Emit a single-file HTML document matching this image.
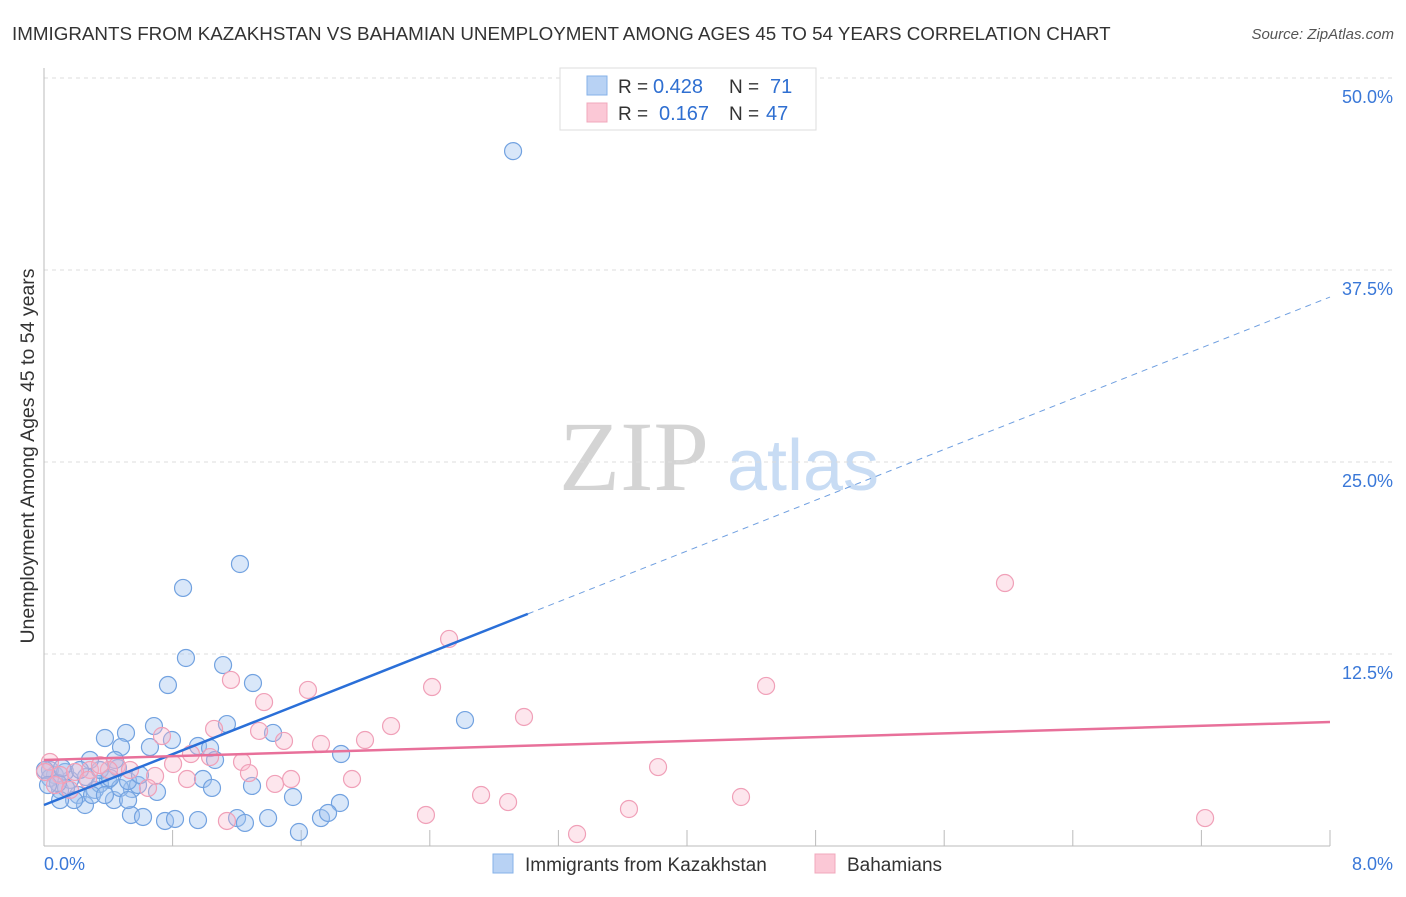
<!DOCTYPE html>
<html><head><meta charset="utf-8"><style>
body{margin:0;background:#fff;font-family:"Liberation Sans",sans-serif;}
</style></head><body>
<svg id="chart" width="1406" height="892" xmlns="http://www.w3.org/2000/svg" font-family="Liberation Sans, sans-serif">
<text x="12" y="40" font-size="18.8" fill="#333">IMMIGRANTS FROM KAZAKHSTAN VS BAHAMIAN UNEMPLOYMENT AMONG AGES 45 TO 54 YEARS CORRELATION CHART</text>
<text x="1394" y="39" font-size="15" fill="#555" text-anchor="end" font-style="italic">Source: ZipAtlas.com</text>
<g>
<text x="634" y="490" font-size="100" fill="#d4d4d4" text-anchor="middle" style="font-family:'Liberation Serif',serif">ZIP</text>
<text x="803" y="490" font-size="72" fill="#c8dcf4" text-anchor="middle">atlas</text>
</g>
<g id="grid"></g>
<g id="axes"></g>
<g id="marks"></g>
<text transform="translate(34,456) rotate(-90)" font-size="19.5" fill="#333" text-anchor="middle">Unemployment Among Ages 45 to 54 years</text>
<g>
<rect x="560" y="68" width="256" height="62" fill="#fff" stroke="#ddd"/>
<rect x="587" y="76" width="20" height="19" fill="#b8d2f4" stroke="#86b2e8"/>
<rect x="587" y="103" width="20" height="19" fill="#fbc8d6" stroke="#f0a8bc"/>
<text x="618" y="93" font-size="19" fill="#333">R =</text>
<text x="653" y="93" font-size="20" fill="#2f6fd1">0.428</text>
<text x="729" y="93" font-size="19" fill="#333">N =</text>
<text x="770" y="93" font-size="20" fill="#2f6fd1">71</text>
<text x="618" y="120" font-size="19" fill="#333">R =</text>
<text x="659" y="120" font-size="20" fill="#2f6fd1">0.167</text>
<text x="729" y="120" font-size="19" fill="#333">N =</text>
<text x="766" y="120" font-size="20" fill="#2f6fd1">47</text>
</g>
<g>
<rect x="493" y="854" width="20" height="19" fill="#b8d2f4" stroke="#86b2e8"/>
<text x="525" y="871" font-size="19" fill="#333">Immigrants from Kazakhstan</text>
<rect x="815" y="854" width="20" height="19" fill="#fbc8d6" stroke="#f0a8bc"/>
<text x="847" y="871" font-size="19" fill="#333">Bahamians</text>
</g>
</svg>
<script>
const yTicks=[12.5,25,37.5,50];
const yTickLabels=["12.5%","25.0%","37.5%","50.0%"];
const xTickLabels=["0.0%","8.0%"];
const blueX=[2.918,1.219,0.865,0.883,1.114,0.771,1.300,2.619,0.510,0.684,0.379,1.138,0.479,0.659,0.958,0.796,1.033,1.848,1.425,1.064,0.989,1.294,0.703,1.045,1.549,1.841,0.547,0.435,0.398,0.317,0.212,0.255,0.100,0.162,0.068,0.037,0.131,0.261,0.348,0.473,0.585,0.523,0.348,0.286,0.460,0.137,0.187,0.541,0.616,0.753,0.815,0.958,1.201,1.250,1.394,1.586,1.723,1.767,0.037,0.087,0.112,0.224,0.411,0.100,0.006,0.025,0.299,0.597,0.523,0.379,0.442];
const blueY=[45.24,18.36,16.80,12.24,11.78,10.48,10.61,8.20,7.36,7.81,7.03,7.94,6.44,6.44,6.51,6.90,6.38,5.99,7.36,5.60,4.36,3.91,3.52,3.78,3.19,2.80,3.71,2.99,4.30,3.65,3.32,2.67,3.65,4.30,4.62,4.95,4.82,4.49,4.04,3.78,3.97,4.23,4.95,5.60,5.08,3.78,2.99,2.02,1.89,1.63,1.76,1.69,1.82,1.50,1.82,0.91,1.82,2.15,4.43,4.10,5.08,4.95,4.43,2.99,4.95,3.97,3.32,4.62,2.99,3.32,5.60];
const pinkX=[5.978,2.520,1.163,2.414,4.492,1.642,1.369,2.986,2.159,1.058,0.734,1.338,1.997,1.723,1.493,0.914,1.232,1.033,0.803,0.454,0.037,0.286,0.404,3.820,1.275,0.691,0.890,1.537,1.916,1.437,2.719,0.647,4.336,2.887,3.639,2.376,1.138,3.316,7.223,0.006,0.100,0.193,0.348,0.535,0.068,0.274,0.162];
const pinkY=[17.12,13.48,10.81,10.35,10.42,10.16,9.37,8.40,7.81,7.62,7.16,7.49,6.90,6.64,6.84,5.99,5.47,5.79,5.34,5.21,5.47,4.95,4.95,5.14,4.75,4.56,4.36,4.36,4.36,4.04,3.32,3.78,3.19,2.86,2.41,2.02,1.63,0.78,1.82,4.82,4.62,4.82,5.27,4.95,3.97,4.30,3.65];
const blueTrend=[2.67,35.74];const blueSolidEnd=3.01;
const pinkTrend=[5.60,8.07];
const NS="http://www.w3.org/2000/svg";
const X0=44,X1=1330,Y0=846;
function sx(v){return X0+(v/8)*(X1-X0);}
function sy(v){return Y0-v/12.5*192;}
function mk(tag,attrs,parent){const e=document.createElementNS(NS,tag);for(const k in attrs)e.setAttribute(k,attrs[k]);parent.appendChild(e);return e;}
const grid=document.getElementById('grid'),axes=document.getElementById('axes'),marks=document.getElementById('marks');
yTicks.forEach((t,i)=>{
 const l=mk('line',{x1:X0,x2:1394,y1:sy(t),y2:sy(t),stroke:'#ddd','stroke-dasharray':'4,4'},grid);
 
 
 const tx=mk('text',{x:1393,y:sy(t)+25,'font-size':18,fill:'#3a78d8','text-anchor':'end'},axes);
 tx.textContent=yTickLabels[i];
 
 
});
const ax=mk('line',{x1:X0,x2:X0,y1:68,y2:Y0,stroke:'#bbb'},axes);


const bx=mk('line',{x1:X0,x2:X1,y1:Y0,y2:Y0,stroke:'#bbb'},axes);


for(let i=1;i<=10;i++){const x=X0+i*(X1-X0)/10;
 const t=mk('line',{x1:x,x2:x,y1:Y0-16,y2:Y0,stroke:'#bbb'},axes);
 
 }
xTickLabels.forEach((s,i)=>{
 const t=mk('text',{x:i?1393:44,y:870,'font-size':18,fill:'#3a78d8','text-anchor':i?'end':'start'},axes);
 t.textContent=s;
 
 
});
blueX.forEach((x,i)=>{
 const c=mk('circle',{cx:sx(x),cy:sy(blueY[i]),r:8.5,fill:'rgba(160,196,240,0.4)',stroke:'#72a2e0','stroke-width':1.2},marks);
 
 
});
pinkX.forEach((x,i)=>{
 const c=mk('circle',{cx:sx(x),cy:sy(pinkY[i]),r:8.5,fill:'rgba(248,182,202,0.35)',stroke:'#f0a0b8','stroke-width':1.2},marks);
 
 
});
function ty(tr,x){return tr[0]+(tr[1]-tr[0])*x/8;}
const bl=mk('line',{x1:sx(0),y1:sy(blueTrend[0]),x2:sx(blueSolidEnd),y2:sy(ty(blueTrend,blueSolidEnd)),stroke:'#2a6fd8','stroke-width':2.5},marks);


const bd=mk('line',{x1:sx(blueSolidEnd),y1:sy(ty(blueTrend,blueSolidEnd)),x2:sx(8),y2:sy(blueTrend[1]),stroke:'#6f9fe0','stroke-width':1,'stroke-dasharray':'6,5'},marks);


const pl=mk('line',{x1:sx(0),y1:sy(pinkTrend[0]),x2:sx(8),y2:sy(pinkTrend[1]),stroke:'#e8709a','stroke-width':2.5},marks);


</script>
</body></html>
